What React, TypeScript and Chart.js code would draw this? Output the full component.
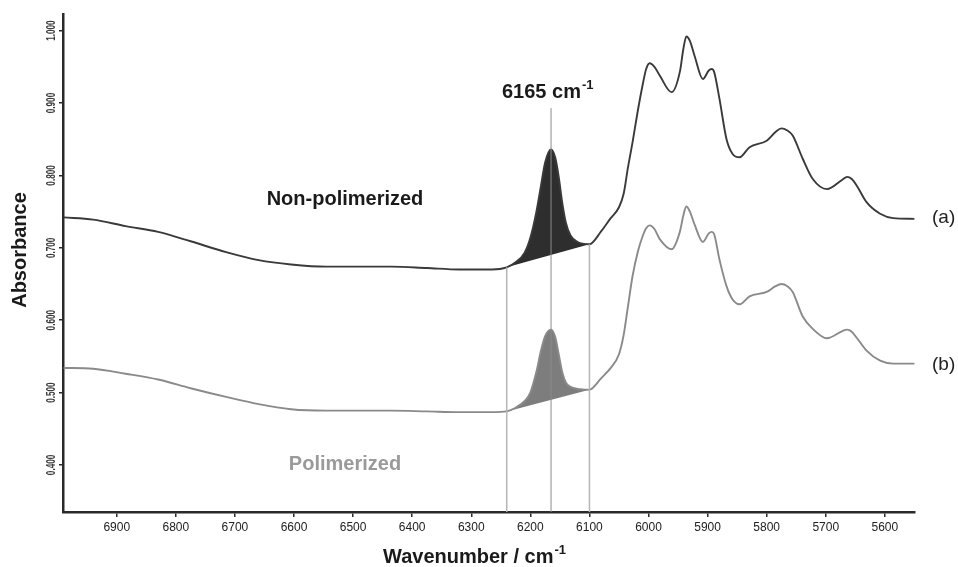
import React, { useEffect, useRef } from "react";
import { Chart, registerables } from "chart.js";

Chart.register(...registerables);

// ---- data ----
const wavenumbers = [
  6990, 6940, 6885, 6830, 6775, 6715, 6660, 6605, 6545, 6490, 6435, 6375, 6320, 6265,
  6240, 6225, 6210, 6200, 6190, 6182, 6175, 6165, 6158, 6152, 6146, 6140, 6132, 6120, 6100,
  6080, 6065, 6050, 6042, 6035, 6027, 6018, 6010, 6004, 5998, 5990, 5981, 5961, 5947, 5941,
  5936, 5930, 5922, 5908, 5898, 5893, 5889, 5880, 5868, 5858, 5846, 5829, 5800, 5785, 5775,
  5765, 5756, 5739, 5722, 5698, 5672, 5664, 5656, 5647, 5631, 5608, 5586, 5550,
];
const absorbanceA = [
  0.742, 0.739, 0.730, 0.722, 0.709, 0.694, 0.683, 0.677, 0.674, 0.674, 0.674, 0.672, 0.670, 0.670,
  0.673, 0.680, 0.693, 0.714, 0.749, 0.786, 0.818, 0.836, 0.825, 0.798, 0.762, 0.735, 0.717, 0.708, 0.705,
  0.723, 0.740, 0.756, 0.775, 0.810, 0.846, 0.890, 0.925, 0.947, 0.955, 0.950, 0.938, 0.915, 0.943, 0.975,
  0.992, 0.986, 0.965, 0.933, 0.945, 0.947, 0.943, 0.906, 0.850, 0.830, 0.825, 0.839, 0.848, 0.860, 0.865,
  0.862, 0.855, 0.823, 0.795, 0.781, 0.794, 0.798, 0.795, 0.785, 0.763, 0.747, 0.741, 0.740,
];
const absorbanceB = [
  0.534, 0.533, 0.526, 0.518, 0.506, 0.494, 0.484, 0.477, 0.475, 0.475, 0.475, 0.474, 0.473, 0.473,
  0.474, 0.479, 0.488, 0.500, 0.528, 0.558, 0.578, 0.587, 0.577, 0.553, 0.528, 0.514, 0.508, 0.505, 0.504,
  0.520, 0.533, 0.553, 0.580, 0.618, 0.661, 0.695, 0.716, 0.727, 0.731, 0.726, 0.712, 0.698, 0.722, 0.745,
  0.757, 0.750, 0.732, 0.708, 0.720, 0.722, 0.719, 0.684, 0.647, 0.629, 0.622, 0.633, 0.639, 0.647, 0.650,
  0.647, 0.639, 0.605, 0.588, 0.575, 0.585, 0.587, 0.584, 0.575, 0.558, 0.544, 0.540, 0.540,
];
const baselineWavenumbers = [6240, 6100];
const baselineA = [0.673, 0.705];
const baselineB = [0.474, 0.504];
const markerWavenumbers = [6240, 6165, 6100];
const markerTops = [0.673, 0.893, 0.705];
const xTicks = [6900, 6800, 6700, 6600, 6500, 6400, 6300, 6200, 6100, 6000, 5900, 5800, 5700, 5600];
const yTicks = [0.4, 0.5, 0.6, 0.7, 0.8, 0.9, 1.0];
const xMin = 5549;
const xMax = 6991;
const yMin = 0.335;
const yMax = 1.023;

const FONT = "'Liberation Sans', Arial, Helvetica, sans-serif";

function toPoints(xs: number[], ys: number[]) {
  return xs.map((x, i) => ({ x, y: ys[i] }));
}

function peakPoints(ys: number[]) {
  const lo = baselineWavenumbers[1];
  const hi = baselineWavenumbers[0];
  return toPoints(wavenumbers, ys).filter((p) => p.x >= lo && p.x <= hi);
}

const textPlugin = {
  id: "textPlugin",
  afterDraw(chart: any) {
    const ctx = chart.ctx as CanvasRenderingContext2D;
    const yScale = chart.scales.y;
    ctx.save();
    // rotated, condensed y tick labels
    ctx.fillStyle = "#3a3a3a";
    ctx.font = `bold 12px ${FONT}`;
    ctx.textAlign = "center";
    ctx.textBaseline = "middle";
    yTicks.forEach((v) => {
      const py = yScale.getPixelForValue(v);
      ctx.save();
      ctx.translate(52, py);
      ctx.rotate(-Math.PI / 2);
      ctx.scale(0.68, 1);
      ctx.fillText(v.toFixed(3), 0, 0);
      ctx.restore();
    });

    // y axis title
    ctx.save();
    ctx.fillStyle = "#1a1a1a";
    ctx.font = `bold 20px ${FONT}`;
    ctx.translate(20, 250);
    ctx.rotate(-Math.PI / 2);
    ctx.textAlign = "center";
    ctx.textBaseline = "middle";
    ctx.fillText("Absorbance", 0, 0);
    ctx.restore();

    // helper for text with superscript
    const supText = (base: string, sup: string, cx: number, baseline: number, align: "center" | "left") => {
      ctx.font = `bold 20px ${FONT}`;
      const w1 = ctx.measureText(base).width;
      ctx.font = `bold 13px ${FONT}`;
      const w2 = ctx.measureText(sup).width;
      const start = align === "center" ? cx - (w1 + w2) / 2 : cx;
      ctx.textAlign = "left";
      ctx.textBaseline = "alphabetic";
      ctx.font = `bold 20px ${FONT}`;
      ctx.fillText(base, start, baseline);
      ctx.font = `bold 13px ${FONT}`;
      ctx.fillText(sup, start + w1 + 1, baseline - 9);
    };

    ctx.fillStyle = "#1a1a1a";
    supText("Wavenumber / cm", "-1", 474, 563, "center");
    supText("6165 cm", "-1", 502, 98, "left");

    ctx.textAlign = "center";
    ctx.textBaseline = "alphabetic";
    ctx.font = `bold 20px ${FONT}`;
    ctx.fillStyle = "#1a1a1a";
    ctx.fillText("Non-polimerized", 345, 205);
    ctx.fillStyle = "#9a9a9a";
    ctx.fillText("Polimerized", 345, 470);

    ctx.font = `19px ${FONT}`;
    ctx.fillStyle = "#222";
    ctx.textAlign = "left";
    ctx.textBaseline = "middle";
    ctx.fillText("(a)", 932, 218);
    ctx.fillText("(b)", 932, 365);
    ctx.restore();
  },
};

export default function App() {
  const canvasRef = useRef<HTMLCanvasElement | null>(null);

  useEffect(() => {
    const canvas = canvasRef.current;
    if (!canvas) return;

    const markerColors = ["#b5b5b5", "#8c8c8c", "#b5b5b5"];
    const markerWidths = [1.5, 1, 1.5];

    const markerSets = markerWavenumbers.map((w, i) => ({
      data: [
        { x: w, y: yMin },
        { x: w, y: markerTops[i] },
      ],
      showLine: true,
      borderColor: markerColors[i],
      borderWidth: markerWidths[i],
      pointRadius: 0,
      fill: false,
      order: 0,
      tension: 0,
    }));

    const chart = new Chart(canvas, {
      type: "scatter",
      data: {
        datasets: [
          {
            data: toPoints(wavenumbers, absorbanceA),
            showLine: true,
            borderColor: "#3a3a3a",
            borderWidth: 1.9,
            pointRadius: 0,
            cubicInterpolationMode: "monotone",
            order: 1,
          },
          {
            data: toPoints(wavenumbers, absorbanceB),
            showLine: true,
            borderColor: "#8a8a8a",
            borderWidth: 1.9,
            pointRadius: 0,
            cubicInterpolationMode: "monotone",
            order: 1,
          },
          {
            data: peakPoints(absorbanceA),
            showLine: true,
            borderWidth: 0,
            borderColor: "rgba(0,0,0,0)",
            backgroundColor: "#2e2e2e",
            pointRadius: 0,
            cubicInterpolationMode: "monotone",
            fill: { target: 3 },
            order: 3,
          },
          {
            data: toPoints(baselineWavenumbers, baselineA),
            showLine: true,
            borderWidth: 0,
            borderColor: "rgba(0,0,0,0)",
            pointRadius: 0,
            order: 3,
          },
          {
            data: peakPoints(absorbanceB),
            showLine: true,
            borderWidth: 0,
            borderColor: "rgba(0,0,0,0)",
            backgroundColor: "#7d7d7d",
            pointRadius: 0,
            cubicInterpolationMode: "monotone",
            fill: { target: 5 },
            order: 3,
          },
          {
            data: toPoints(baselineWavenumbers, baselineB),
            showLine: true,
            borderWidth: 0,
            borderColor: "rgba(0,0,0,0)",
            pointRadius: 0,
            order: 3,
          },
          ...markerSets,
        ] as any,
      },
      options: {
        animation: false,
        responsive: false,
        maintainAspectRatio: false,
        layout: { padding: { top: 14, right: 43, left: 0, bottom: 0 } },
        plugins: {
          legend: { display: false },
          tooltip: { enabled: false },
          title: { display: false },
        },
        scales: {
          x: {
            type: "linear",
            reverse: true,
            min: xMin,
            max: xMax,
            afterBuildTicks: (s: any) => {
              s.ticks = xTicks.map((v) => ({ value: v }));
            },
            afterFit: (s: any) => {
              s.height = 55;
            },
            border: { display: true, color: "#2a2a2a", width: 2.5 },
            grid: {
              display: true,
              drawOnChartArea: false,
              drawTicks: true,
              tickLength: 5,
              color: "#2a2a2a",
              lineWidth: 1.5,
            },
            ticks: {
              autoSkip: false,
              maxRotation: 0,
              minRotation: 0,
              padding: 3,
              color: "#222",
              font: { size: 12, family: FONT },
              callback: (v: any) => String(v),
            },
          },
          y: {
            type: "linear",
            min: yMin,
            max: yMax,
            afterBuildTicks: (s: any) => {
              s.ticks = yTicks.map((v) => ({ value: v }));
            },
            afterFit: (s: any) => {
              s.width = 63;
            },
            border: { display: true, color: "#2a2a2a", width: 2.5 },
            grid: {
              display: true,
              drawOnChartArea: false,
              drawTicks: true,
              tickLength: 4,
              color: "#2a2a2a",
              lineWidth: 1.5,
            },
            ticks: { display: false },
          },
        },
      } as any,
      plugins: [textPlugin],
    });

    return () => {
      chart.destroy();
    };
  }, []);

  return (
    <div style={{ position: "absolute", left: 0, top: 0, width: 958, height: 567, background: "#fff" }}>
      <canvas ref={canvasRef} width={958} height={567} style={{ display: "block" }} />
    </div>
  );
}
